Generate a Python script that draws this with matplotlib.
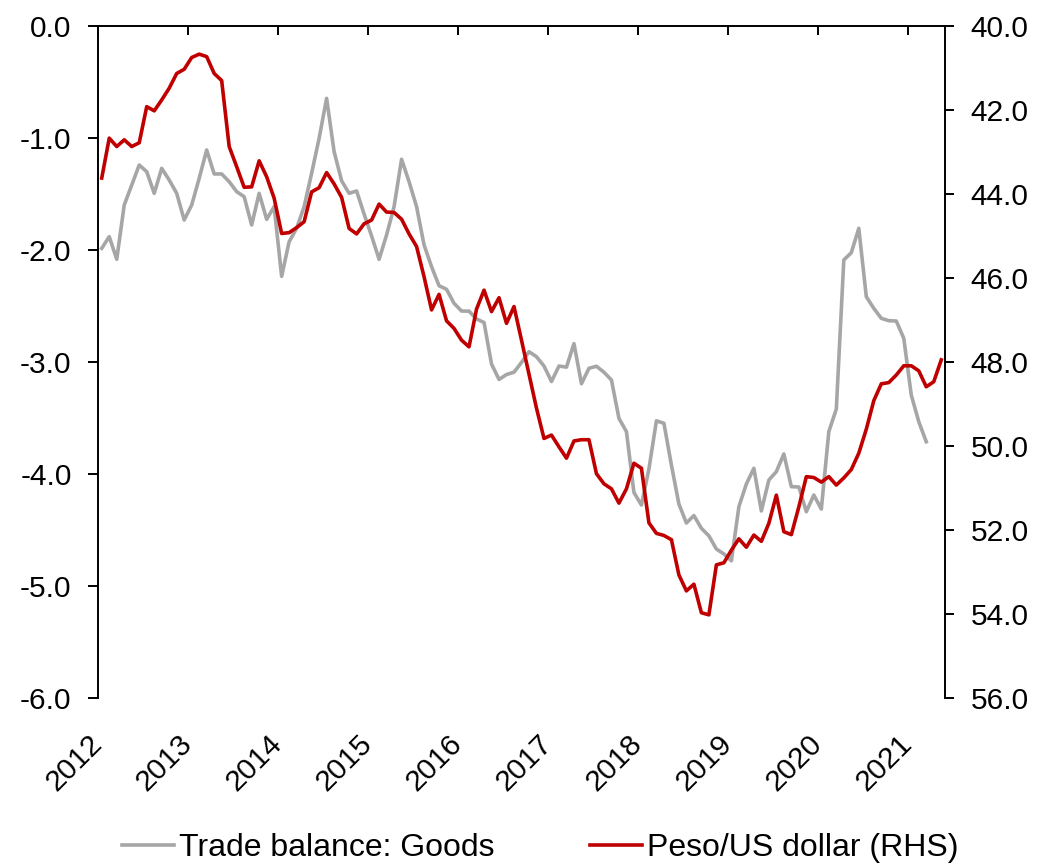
import matplotlib
matplotlib.use("Agg")
import matplotlib.pyplot as plt
import numpy as np

# ---- data (monthly, Jan 2012 onwards) ----
trade_balance = [
    -1.985, -1.881, -2.083, -1.598, -1.420, -1.241, -1.301, -1.494, -1.271, -1.375,
    -1.494, -1.732, -1.598, -1.360, -1.107, -1.321, -1.321, -1.390, -1.479, -1.524,
    -1.777, -1.494, -1.726, -1.613, -2.235, -1.926, -1.806, -1.613, -1.315, -1.003,
    -0.646, -1.122, -1.382, -1.494, -1.473, -1.679, -1.875, -2.083, -1.866, -1.613,
    -1.190, -1.390, -1.613, -1.955, -2.149, -2.319, -2.351, -2.476, -2.545, -2.546,
    -2.616, -2.647, -3.018, -3.156, -3.112, -3.091, -3.004, -2.908, -2.953, -3.036,
    -3.174, -3.036, -3.046, -2.836, -3.194, -3.056, -3.038, -3.091, -3.161, -3.503,
    -3.622, -4.165, -4.277, -3.955, -3.525, -3.547, -3.920, -4.268, -4.438, -4.371,
    -4.485, -4.552, -4.670, -4.714, -4.775, -4.292, -4.089, -3.949, -4.330, -4.054,
    -3.979, -3.821, -4.113, -4.116, -4.337, -4.188, -4.313, -3.622, -3.420, -2.089,
    -2.024, -1.806, -2.417, -2.521, -2.610, -2.631, -2.634, -2.788, -3.295, -3.533,
    -3.712,
]
peso_usd = [
    43.62, 42.67, 42.87, 42.71, 42.87, 42.78, 41.92, 42.02, 41.76, 41.48,
    41.13, 41.03, 40.75, 40.67, 40.73, 41.13, 41.30, 42.87, 43.35, 43.84,
    43.83, 43.21, 43.59, 44.10, 44.94, 44.92, 44.80, 44.66, 43.95, 43.85,
    43.49, 43.76, 44.08, 44.82, 44.95, 44.71, 44.62, 44.24, 44.43, 44.44,
    44.60, 44.95, 45.25, 45.97, 46.76, 46.39, 47.02, 47.20, 47.48, 47.64,
    46.74, 46.29, 46.80, 46.47, 47.08, 46.68, 47.48, 48.29, 49.10, 49.82,
    49.74, 50.02, 50.29, 49.88, 49.85, 49.85, 50.66, 50.90, 51.02, 51.36,
    51.02, 50.41, 50.53, 51.83, 52.08, 52.13, 52.23, 53.07, 53.45, 53.29,
    53.97, 54.02, 52.83, 52.78, 52.48, 52.21, 52.41, 52.12, 52.27, 51.84,
    51.17, 52.04, 52.11, 51.45, 50.73, 50.75, 50.86, 50.73, 50.93, 50.76,
    50.56, 50.17, 49.60, 48.92, 48.52, 48.49, 48.31, 48.09, 48.09, 48.21,
    48.59, 48.47, 47.95,
]
start_year = 2012
years = list(range(2012, 2022))
left_ticks = [0.0, -1.0, -2.0, -3.0, -4.0, -5.0, -6.0]
right_ticks = [40.0, 42.0, 44.0, 46.0, 48.0, 50.0, 52.0, 54.0, 56.0]
label_tb = "Trade balance: Goods"
label_fx = "Peso/US dollar (RHS)"

x_tb = start_year + (np.arange(len(trade_balance)) + 0.5) / 12
x_fx = start_year + (np.arange(len(peso_usd)) + 0.5) / 12

plt.rcParams['font.family'] = ['Liberation Sans', 'DejaVu Sans']
FS = 21.5
GRAY = '#A6A6A6'
RED = '#C00000'

fig = plt.figure(figsize=(10.4, 8.65), dpi=100)
ax = fig.add_axes([98/1040, 1-698/865, (945-98)/1040, (698-26)/865])
ax2 = ax.twinx()

l1, = ax.plot(x_tb, trade_balance, color=GRAY, lw=2.6, label=label_tb, solid_joinstyle='round')
l2, = ax2.plot(x_fx, peso_usd, color=RED, lw=2.6, label=label_fx, solid_joinstyle='round')

ax.set_xlim(start_year, start_year + 113/12)
ax.set_ylim(-6, 0)
ax2.set_ylim(56, 40)

ax.set_yticks(left_ticks)
ax.set_yticklabels([f"{v:.1f}" for v in left_ticks])
ax2.set_yticks(right_ticks)
ax2.set_yticklabels([f"{v:.1f}" for v in right_ticks])

ax.set_xticks(years)
ax.set_xticklabels([str(y) for y in years], rotation=45, ha='right', va='center',
                   rotation_mode='anchor')

for a in (ax, ax2):
    for s in a.spines.values():
        s.set_linewidth(1.4)
        s.set_color('black')
    a.spines['bottom'].set_visible(False)
ax.spines['right'].set_visible(False)
ax2.spines['left'].set_visible(False)
ax2.spines['top'].set_visible(False)

ax.tick_params(axis='y', direction='out', length=7, width=1.4, labelsize=FS, pad=12)
ax2.tick_params(axis='y', direction='out', length=6.5, width=1.4, labelsize=FS, pad=12)
ax.tick_params(axis='x', which='both', top=True, bottom=False, labelbottom=True,
               direction='in', length=6.5, width=1.4, labelsize=FS, pad=30)

leg = fig.legend([l1, l2], [label_tb, label_fx], loc='center', bbox_to_anchor=(540/1040, 1-848/865),
                 ncol=2, frameon=False, fontsize=23, handlelength=1.63, handletextpad=0.15,
                 columnspacing=3.0, borderpad=0)

fig.savefig("out.png", dpi=100)
